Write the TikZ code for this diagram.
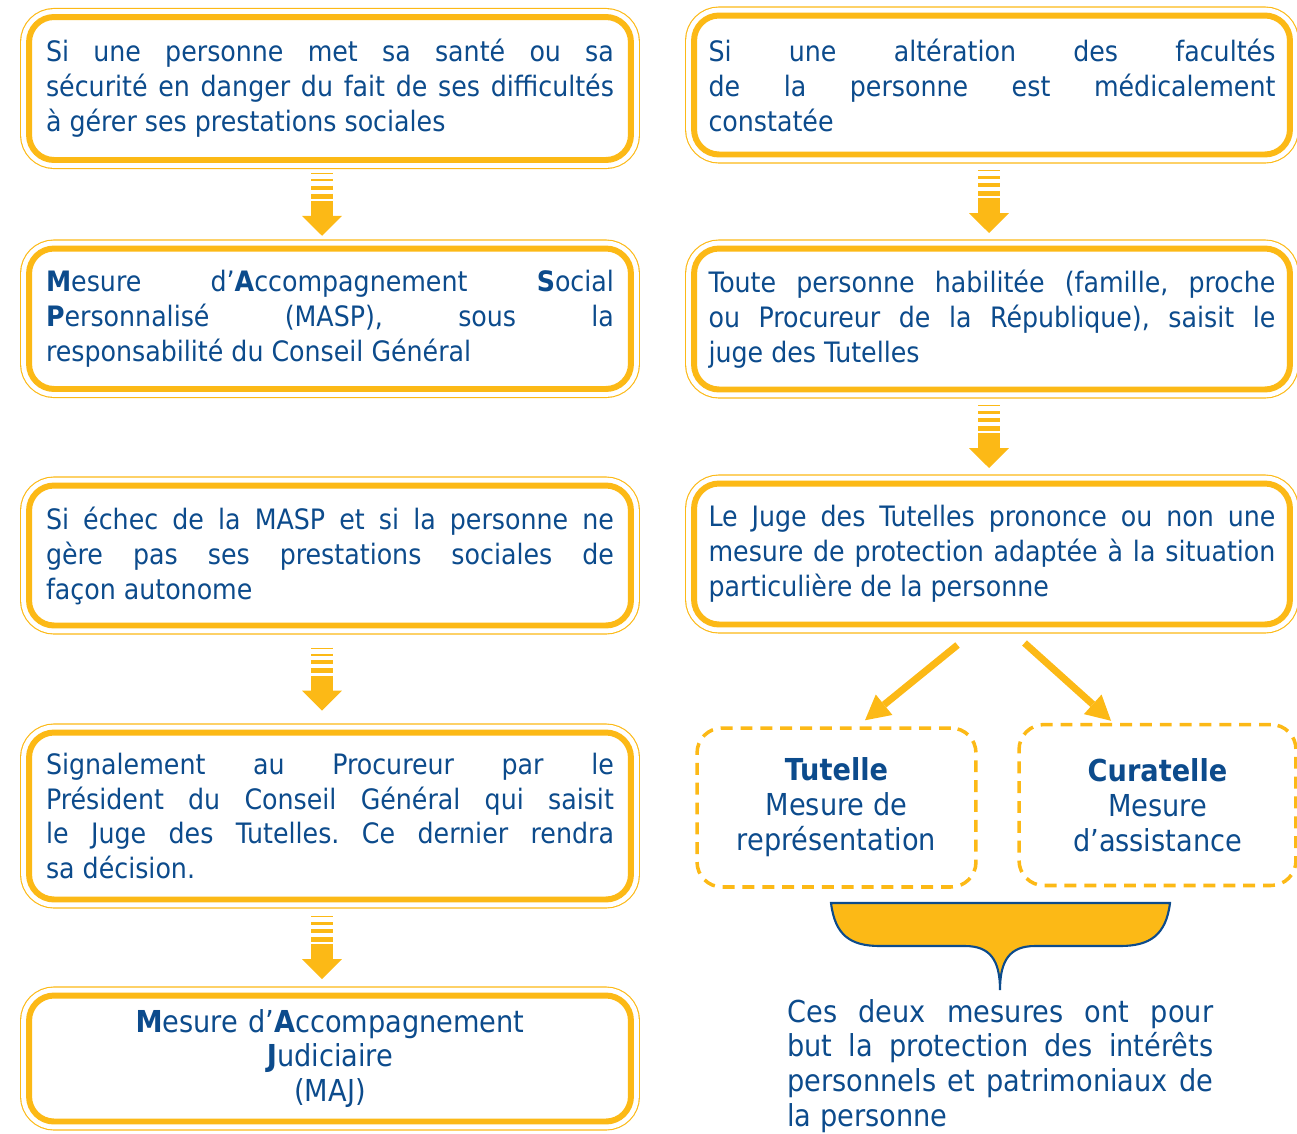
\documentclass[tikz,border=0pt]{standalone}
\usepackage{fontspec}
\setmainfont{DejaVu Sans Condensed}
\usetikzlibrary{arrows.meta,calc}
\definecolor{jaune}{RGB}{252,185,22}
\definecolor{bleu}{RGB}{12,75,140}
\newcommand\corps{\fontsize{16}{19.9}\selectfont\frenchspacing}
\newcommand\corpsplus{\fontsize{17.2}{19.9}\selectfont\frenchspacing}

\begin{document}
\begin{tikzpicture}[x=0.02cm,y=-0.02cm]
  \useasboundingbox (0,0) rectangle (1297,1133);
  \tikzset{cadre node/.style={rectangle, draw=jaune, fill=white,
      line width=3.4pt, rounded corners=0.5cm, inner sep=0pt,
      text=bleu, font=\corps, align=justify,
      preaction={draw=jaune, line width=10.3pt},
      preaction={draw=white, line width=9pt}}, }
  \tikzset{gauche/.style={minimum width=12.04cm, text width=11.36cm}, }
  \tikzset{droite/.style={minimum width=11.92cm, text width=11.34cm}, }
  \tikzset{mesure node/.style={rectangle, draw=jaune, line width=2pt,
      dash pattern=on 6.8pt off 4.5pt, rounded corners=0.5cm,
      text=bleu, font=\corpsplus, align=center}, }
  \tikzset{fleche/.style={draw=jaune, line width=13pt,
      dash pattern=on 0.74pt off 2.67pt on 1.53pt off 2.44pt on 2.27pt off 2.27pt
        on 2.84pt off 1.42pt on 30pt off 30pt,
      -{Triangle[width=22.7pt,length=11.3pt,line width=0pt]}}, }
  \tikzset{linea/.style={draw=jaune, line width=4pt,
      -{Triangle[width=15pt,length=14pt,line width=0pt]}}, }
%% colonne de gauche
\node[cadre node, gauche, minimum height=2.86cm] (1) at (330,88.5)
  {Si une personne met sa santé ou sa\linebreak
   sécurité en danger du fait de ses difficultés\linebreak
   à gérer ses prestations sociales};
\node[cadre node, gauche, minimum height=2.81cm] (2) at (330,318.75)
  {\textbf{M}esure d’\textbf{A}ccompagnement \textbf{S}ocial\linebreak
   \textbf{P}ersonnalisé (MASP), sous la\linebreak
   responsabilité du Conseil Général};
\node[cadre node, gauche, minimum height=2.8cm] (3) at (330,555.5)
  {Si échec de la MASP et si la personne ne\linebreak
   gère pas ses prestations sociales de\linebreak
   façon autonome};
\node[cadre node, gauche, minimum height=3.34cm] (4) at (330,816)
  {Signalement au Procureur par le\linebreak
   Président du Conseil Général qui saisit\linebreak
   le Juge des Tutelles. Ce dernier rendra\linebreak
   sa décision.};
\node[cadre node, gauche, minimum height=2.52cm, align=center, font=\corpsplus] (5) at (330,1058.5)
  {\textbf{M}esure d’\textbf{A}ccompagnement\\
   \textbf{J}udiciaire\\
   (MAJ)};
%% colonne de droite
\node[cadre node, droite, minimum height=2.78cm] (6) at (992,85)
  {Si une altération des facultés\linebreak
   de la personne est médicalement\linebreak
   constatée};
\node[cadre node, droite, minimum height=2.82cm] (7) at (992,319)
  {Toute personne habilitée (famille, proche\linebreak
   ou Procureur de la République), saisit le\linebreak
   juge des Tutelles};
\node[cadre node, droite, minimum height=2.82cm] (8) at (992,554)
  {Le Juge des Tutelles prononce ou non une\linebreak
   mesure de protection adaptée à la situation\linebreak
   particulière de la personne};
\node[mesure node, minimum width=5.58cm, minimum height=3.18cm] (9) at (836.5,807.5)
  {\textbf{Tutelle}\\Mesure de\\représentation};
\node[mesure node, minimum width=5.54cm, minimum height=3.22cm] (10) at (1157.5,805)
  {\textbf{Curatelle}\\Mesure\\d’assistance};
\node[anchor=base west, inner sep=0pt, text width=8.52cm, align=justify,
  text=bleu, font=\corpsplus] (11) at (787,1022)
  {Ces deux mesures ont pour\linebreak
   but la protection des intérêts\linebreak
   personnels et patrimoniaux de\linebreak
   la personne};
%% fleches
\foreach \x/\y/\d in {1/2/-0.16cm,3/4/-0.16cm,4/5/-0.16cm,6/7/-0.06cm,7/8/-0.06cm}
  \draw[fleche] ($(\x.south)!0.5!(\y.north)+(\d,0.63cm)$) -- ++(0,-1.26cm);
\draw[linea] ([shift={(-0.69cm,-0.35cm)}]8.south) -- ([shift={(0.57cm,0.12cm)}]9.north);
\draw[linea] ([shift={(0.65cm,-0.31cm)}]8.south) -- ([shift={(-0.93cm,0.04cm)}]10.north);
%% accolade
\draw[bleu, line width=1.2pt, fill=jaune] (831,903) -- (1170,903)
  .. controls (1166,935) and (1150,946) .. (1120,946) -- (1035,946)
  .. controls (1010,946) and (1000,960) .. (1000,990)
  .. controls (1000,960) and (990,946) .. (965,946) -- (880,946)
  .. controls (850,946) and (835,935) .. (831,903) -- cycle;
%%
\end{tikzpicture}
\end{document}
